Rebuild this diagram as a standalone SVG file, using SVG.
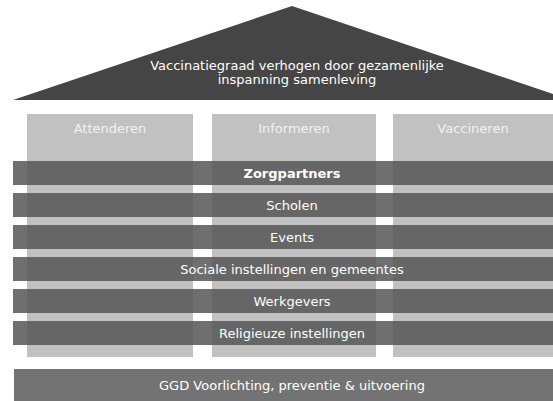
<svg xmlns="http://www.w3.org/2000/svg" width="553" height="401" viewBox="0 0 553 401">
<style>
.t{font-family:"DejaVu Sans","Verdana",sans-serif;font-size:13px;text-anchor:middle;fill:#ffffff}
.pl{fill:#f2f2f2}
.pillar{fill:#c1c1c1}
.band{fill:#575757;fill-opacity:0.86}
</style>
<rect width="553" height="401" fill="#ffffff"/>
<g id="roof">
<polygon points="13,100 292,6 571,100" fill="#454545"/>
<text class="t" x="297" y="70">Vaccinatiegraad verhogen door gezamenlijke</text>
<text class="t" x="297" y="84">inspanning samenleving</text>
</g>
<g id="pillar-attenderen">
<rect class="pillar" x="27" y="114" width="166" height="243"/>
<text class="t pl" x="110" y="133">Attenderen</text>
</g>
<g id="pillar-informeren">
<rect class="pillar" x="212" y="114" width="164" height="243"/>
<text class="t pl" x="294" y="133">Informeren</text>
</g>
<g id="pillar-vaccineren">
<rect class="pillar" x="393" y="114" width="160" height="243"/>
<text class="t pl" x="473" y="133">Vaccineren</text>
</g>
<g id="band-zorgpartners">
<rect class="band" x="13" y="161" width="540" height="24"/>
<text class="t" x="292" y="178" font-weight="bold">Zorgpartners</text>
</g>
<g id="band-scholen">
<rect class="band" x="13" y="193" width="540" height="24"/>
<text class="t" x="292" y="210">Scholen</text>
</g>
<g id="band-events">
<rect class="band" x="13" y="225" width="540" height="24"/>
<text class="t" x="292" y="242">Events</text>
</g>
<g id="band-sociale">
<rect class="band" x="13" y="257" width="540" height="24"/>
<text class="t" x="292" y="274">Sociale instellingen en gemeentes</text>
</g>
<g id="band-werkgevers">
<rect class="band" x="13" y="289" width="540" height="24"/>
<text class="t" x="292" y="306">Werkgevers</text>
</g>
<g id="band-religieuze">
<rect class="band" x="13" y="321" width="540" height="24"/>
<text class="t" x="292" y="338">Religieuze instellingen</text>
</g>
<g id="foundation-ggd">
<rect x="14" y="369" width="539" height="32" fill="#737373"/>
<text class="t" x="292" y="390">GGD Voorlichting, preventie &amp; uitvoering</text>
</g>
<g id="connectors"/>
</svg>
